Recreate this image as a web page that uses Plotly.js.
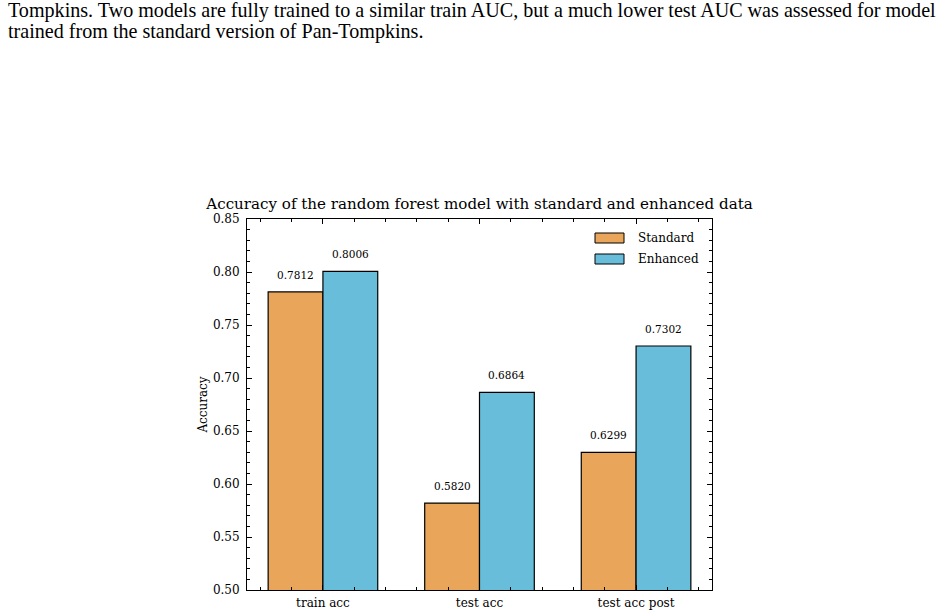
<!DOCTYPE html>
<html>
<head>
<meta charset="utf-8">
<script src="https://cdn.plot.ly/plotly-3.0.1.min.js"></script>
<style>
  html, body { margin: 0; padding: 0; background: #ffffff; }
  #chart { width: 949px; height: 615px; }
</style>
</head>
<body>
<div id="chart"></div>
<script>
// Random forest accuracy, standard vs enhanced Pan-Tompkins features
const categories = ['train acc', 'test acc', 'test acc post'];
const seriesNames = ['Standard', 'Enhanced'];
const standardAcc = [0.7812, 0.5820, 0.6299];
const enhancedAcc = [0.8006, 0.6864, 0.7302];
const seriesColors = ['#E9A65B', '#68BEDA'];
const yTickVals = [0.50, 0.55, 0.60, 0.65, 0.70, 0.75, 0.80, 0.85];
const yTickText = ['0.50', '0.55', '0.60', '0.65', '0.70', '0.75', '0.80', '0.85'];
const captionLines = [
  'Tompkins. Two models are fully trained to a similar train AUC, but a much lower test AUC was assessed for model',
  'trained from the standard version of Pan-Tompkins.'
];
const chartTitle = 'Accuracy of the random forest model with standard and enhanced data';
const yLabel = 'Accuracy';

// plot-area geometry (pixels) used to place page-level text in paper coords
const M = { l: 247, r: 237, t: 219, b: 25 };
const W = 949, H = 615;
const PW = W - M.l - M.r, PH = H - M.t - M.b;
const pxX = px => (px - M.l) / PW;
const pxY = py => (H - M.b - py) / PH;

const serif = 'DejaVu Serif, serif';
const BAR_W = 0.35;            // width of one bar in category units
const xIdx = categories.map((_, i) => i);
const allSeries = [standardAcc, enhancedAcc];

const traces = allSeries.map((vals, s) => ({
  type: 'bar',
  name: seriesNames[s],
  x: xIdx,
  y: vals,
  width: BAR_W,
  offset: s === 0 ? -BAR_W : 0,
  marker: { color: seriesColors[s], line: { color: '#000000', width: 1.2 } },
  showlegend: false,
  hoverinfo: 'skip'
}));

const annotations = [];
// value labels above each bar
allSeries.forEach((vals, s) => {
  vals.forEach((v, i) => {
    annotations.push({
      x: i + (s === 0 ? -BAR_W / 2 : BAR_W / 2),
      y: v, xref: 'x', yref: 'y',
      text: v.toFixed(4), showarrow: false,
      yanchor: 'middle', yshift: 17,
      font: { family: serif, size: 10.5, color: '#000000' }
    });
  });
});

// caption lines of the surrounding document
captionLines.forEach((line, k) => {
  annotations.push({
    x: pxX(6), y: pxY(10.6 + k * 21), xref: 'paper', yref: 'paper',
    xanchor: 'left', yanchor: 'middle', align: 'left',
    text: line, showarrow: false,
    font: { family: 'Liberation Serif, Times New Roman, serif', size: 20.1, color: '#000000' }
  });
});

// legend: swatch + label per series
const shapes = [];
seriesNames.forEach((name, s) => {
  const cy = 238 + s * 21;
  shapes.push({
    type: 'rect', xref: 'paper', yref: 'paper',
    x0: pxX(595), x1: pxX(624), y0: pxY(cy + 5), y1: pxY(cy - 5),
    fillcolor: seriesColors[s], line: { color: '#000000', width: 1 }
  });
  annotations.push({
    x: pxX(636), y: pxY(cy), xref: 'paper', yref: 'paper',
    xanchor: 'left', yanchor: 'middle', text: name, showarrow: false,
    font: { family: serif, size: 12, color: '#000000' }
  });
});

const axisCommon = {
  showline: true, linecolor: '#000000', linewidth: 1,
  mirror: 'allticks', ticks: 'inside', tickcolor: '#000000',
  tickwidth: 1, ticklen: 5, showgrid: false, zeroline: false,
  tickfont: { family: serif, size: 12, color: '#000000' }
};

const layout = {
  width: W, height: H,
  margin: M,
  paper_bgcolor: '#ffffff', plot_bgcolor: '#ffffff',
  title: {
    text: chartTitle, x: 0.5, xref: 'paper', xanchor: 'center',
    y: 1 - 204 / H, yanchor: 'middle',
    font: { family: serif, size: 15.1, color: '#000000' }
  },
  xaxis: Object.assign({}, axisCommon, {
    type: 'linear', range: [-0.485, 2.485],
    tickmode: 'array', tickvals: xIdx, ticktext: categories,
    ticklabelstandoff: 2,
    minor: { dtick: 0.2, tick0: 0, ticks: 'inside', ticklen: 3, tickcolor: '#000000', tickwidth: 1 }
  }),
  yaxis: Object.assign({}, axisCommon, {
    range: [0.5, 0.85],
    tickmode: 'array', tickvals: yTickVals, ticktext: yTickText,
    ticklabelstandoff: 4,
    minor: { dtick: 0.01, tick0: 0.5, ticks: 'inside', ticklen: 3, tickcolor: '#000000', tickwidth: 1 },
    title: { text: yLabel, standoff: 2, font: { family: serif, size: 12, color: '#000000' } }
  }),
  barmode: 'overlay',
  annotations: annotations,
  shapes: shapes,
  showlegend: false
};

Plotly.newPlot('chart', traces, layout, { staticPlot: true, displayModeBar: false });
</script>
</body>
</html>
